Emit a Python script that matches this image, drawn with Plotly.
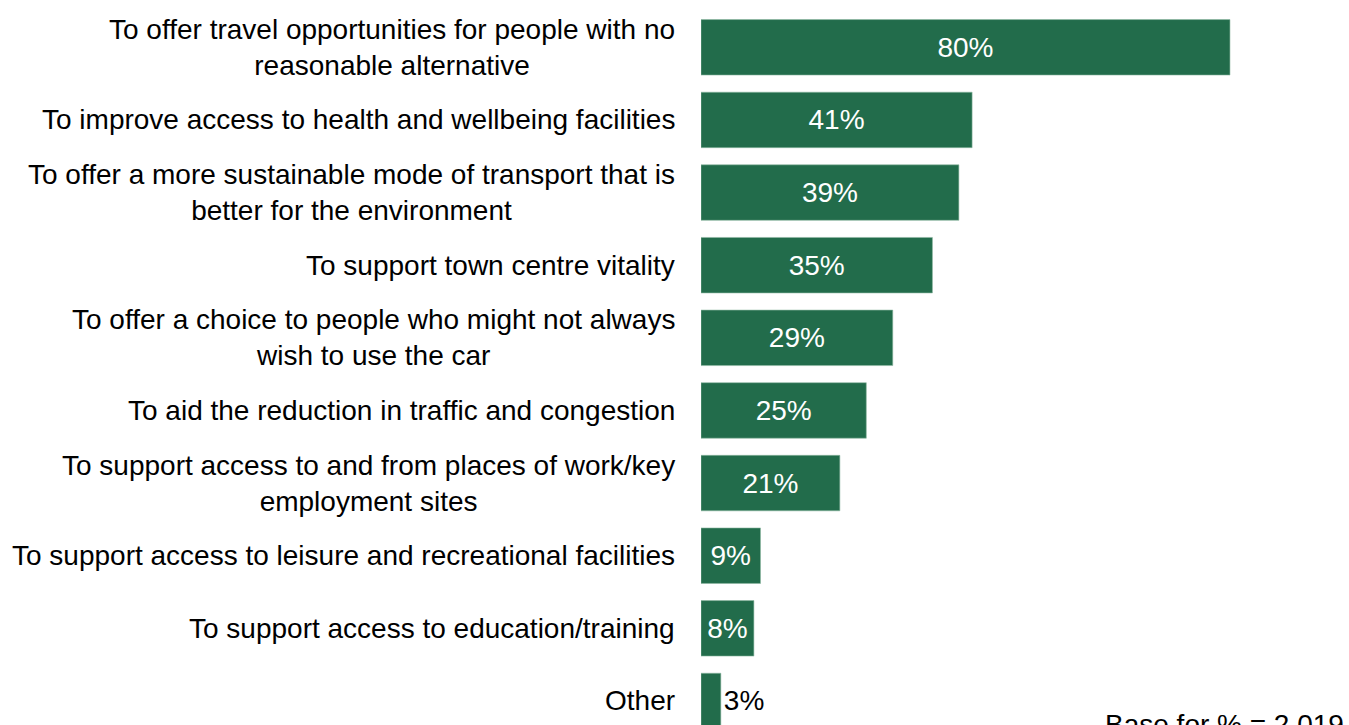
import plotly.graph_objects as go

# Reasons for supporting the service, share of respondents (%)
categories = [
    "To offer travel opportunities for people with no<br>reasonable alternative",
    "To improve access to health and wellbeing facilities",
    "To offer a more sustainable mode of transport that is<br>better for the environment",
    "To support town centre vitality",
    "To offer a choice to people who might not always<br>wish to use the car",
    "To aid the reduction in traffic and congestion",
    "To support access to and from places of work/key<br>employment sites",
    "To support access to leisure and recreational facilities",
    "To support access to education/training",
    "Other",
]
values = [80, 41, 39, 35, 29, 25, 21, 9, 8, 3]
base_note = "Base for % = 2,019"

BAR_GREEN = "#226C4B"
FONT = "Arial, 'Liberation Sans', sans-serif"

text_pos = ["inside" if v >= 5 else "outside" for v in values]
text_col = ["white" if v >= 5 else "black" for v in values]

fig = go.Figure(
    go.Bar(
        x=values,
        y=categories,
        orientation="h",
        marker=dict(color=BAR_GREEN, line=dict(color="#8fb9a2", width=0.6)),
        text=[f"{v}%" for v in values],
        textposition=text_pos,
        insidetextanchor="middle",
        textfont=dict(family=FONT, size=28, color=text_col),
        cliponaxis=False,
        hoverinfo="skip",
    )
)

# Category labels, centre-aligned across wrapped lines
for cat in categories:
    fig.add_annotation(
        x=0, xref="paper", y=cat, yref="y",
        text=cat, showarrow=False,
        xanchor="right", yanchor="middle", align="center",
        xshift=-24,
        font=dict(family=FONT, size=28, color="black"),
    )

fig.add_annotation(
    x=1, xref="paper", y=0, yref="paper",
    text=base_note, showarrow=False,
    xanchor="right", yanchor="top", xshift=-3, yshift=18,
    font=dict(family=FONT, size=28, color="black"),
)

fig.update_layout(
    width=1349,
    height=725,
    margin=dict(l=701, r=0, t=11, b=0, pad=0),
    paper_bgcolor="white",
    plot_bgcolor="white",
    bargap=0.236,
    showlegend=False,
    xaxis=dict(visible=False, range=[0, 98], fixedrange=True),
    yaxis=dict(
        type="category",
        categoryorder="array",
        categoryarray=categories,
        range=[9.331, -0.5],
        showticklabels=False,
        showgrid=False,
        zeroline=False,
        showline=False,
        ticks="",
        fixedrange=True,
    ),
    uniformtext=dict(minsize=28, mode="show"),
)

fig.write_html("out.html", config={"displayModeBar": False})
